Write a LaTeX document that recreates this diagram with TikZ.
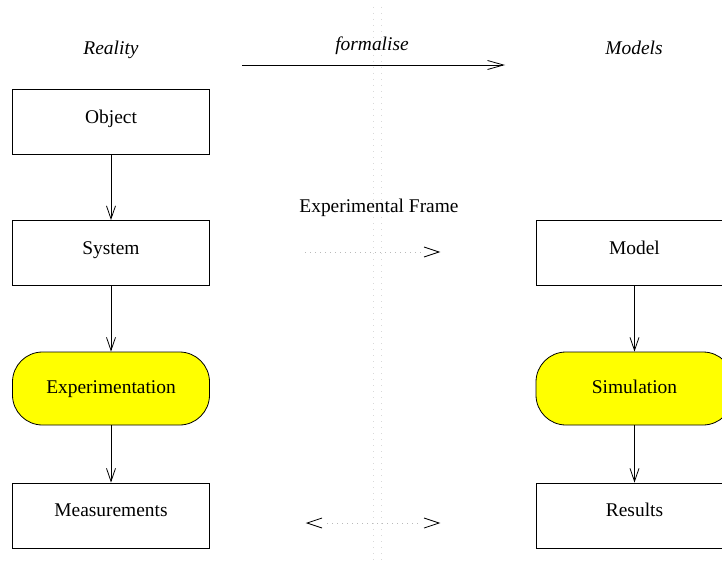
\documentclass[tikz,border=0pt]{standalone}
\usepackage{fontspec}
\setmainfont{Liberation Serif}
\usetikzlibrary{arrows.meta}
\definecolor{actfill}{RGB}{255,255,0}
\begin{document}
\begin{tikzpicture}[x=1bp,y=-1bp,
  every node/.style={font=\fontsize{19.5}{23}\selectfont, text height=13.5bp, text depth=4.3bp},
  box/.style={draw=black, line width=0.8bp, fill=white, minimum width=197bp, minimum height=65bp, inner sep=0pt},
  activity/.style={draw=black, line width=0.8bp, fill=actfill, rounded corners=30bp, minimum width=197bp, minimum height=73bp, inner sep=0pt},
  heading/.style={font=\fontsize{19.5}{23}\selectfont\itshape},
  flow/.style={line width=0.8bp, -{Straight Barb[length=13bp, width=9bp, line width=0.8bp]}},
  guide/.style={gray!30, line width=1bp, dash pattern=on 1bp off 5bp},
  frame/.style={gray!55, line width=0.8bp, dash pattern=on 1bp off 4bp},
  tip/.style={line width=0.8bp, black}
]
\useasboundingbox (0,0) rectangle (722,568);

% centre divider (two light dotted rules)
\coordinate (g1t) at (373,7);  \coordinate (g1b) at (373,565);
\coordinate (g2t) at (381,7);  \coordinate (g2b) at (381,565);
\draw[guide] (g1t) -- (g1b);
\draw[guide] (g2t) -- (g2b);

% column headings
\node[heading] (reality) at (111,50) {Reality};
\node[heading] (formalise) at (372,46) {formalise};
\node[heading] (models) at (634,50) {Models};
\coordinate (fs) at (242,65);
\coordinate (fe) at (505,65);
\draw[line width=0.8bp, -{Straight Barb[length=16bp, width=9bp, line width=0.8bp]}] (fs) -- (fe);

% reality side
\node[box] (object) at (111,122) {\raisebox{3.5bp}{Object}};
\node[box] (system) at (111,253) {\raisebox{3.5bp}{System}};
\node[activity] (experimentation) at (111,388.5) {Experimentation};
\node[box] (measurements) at (111,515.5) {\raisebox{3.5bp}{Measurements}};

% model side
\node[box] (model) at (634.5,253) {\raisebox{3.5bp}{Model}};
\node[activity] (simulation) at (634.5,388.5) {Simulation};
\node[box] (results) at (634.5,515.5) {\raisebox{3.5bp}{Results}};

\draw[flow] (object) -- (system);
\draw[flow] (system) -- (experimentation);
\draw[flow] (experimentation) -- (measurements);
\draw[flow] (model) -- (simulation);
\draw[flow] (simulation) -- (results);

% experimental frame
\node (ef) at (379,208) {Experimental Frame};
\coordinate (ea) at (305,252);
\coordinate (eb) at (424,252);
\coordinate (et) at (439,252);
\draw[frame] (ea) -- (eb);
\draw[tip] ([yshift=-5bp]eb) -- (et) -- ([yshift=5bp]eb);

% comparison of measurements and results
\coordinate (ct) at (307,523);
\coordinate (ca) at (322,523);
\coordinate (cb) at (424,523);
\coordinate (cc) at (439,523);
\draw[frame] ([xshift=5bp]ca) -- ([xshift=-2bp]cb);
\draw[tip] ([yshift=-5bp]ca) -- (ct) -- ([yshift=5bp]ca);
\draw[tip] ([yshift=-5bp]cb) -- (cc) -- ([yshift=5bp]cb);
\end{tikzpicture}
\end{document}
